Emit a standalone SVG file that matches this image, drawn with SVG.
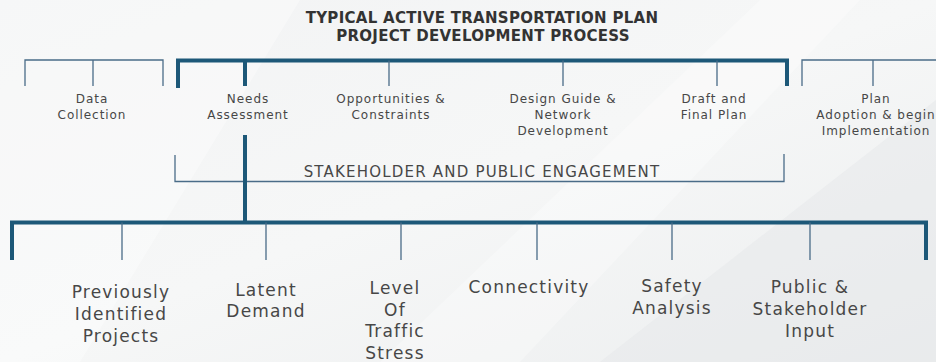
<svg xmlns="http://www.w3.org/2000/svg" width="936" height="362" viewBox="0 0 936 362">
<defs>
<linearGradient id="bg" x1="0" y1="0" x2="1" y2="1">
<stop offset="0" stop-color="#f2f3f4"/>
<stop offset="0.5" stop-color="#f6f7f7"/>
<stop offset="1" stop-color="#eceeef"/>
</linearGradient>
<style>
.thick{stroke:#1d5878;stroke-width:4;fill:none}
.thin{stroke:#4a6c88;stroke-width:1.3;fill:none}
.t{font-family:"DejaVu Sans","Liberation Sans",sans-serif;fill:#474747;text-anchor:middle}
.s{font-size:12px;letter-spacing:0.95px}
.l{font-size:17px;letter-spacing:1.2px}
.title{font-family:"DejaVu Sans","Liberation Sans",sans-serif;font-weight:bold;font-size:15px;fill:#333;text-anchor:middle;letter-spacing:0.3px}
.eng{font-size:15px;letter-spacing:1.2px}
</style>
</defs>
<rect width="936" height="362" fill="url(#bg)"/>
<polygon points="0,0 300,0 80,362 0,362" fill="#ffffff" opacity="0.35"/>
<polygon points="600,362 936,100 936,362" fill="#e6e8ea" opacity="0.5"/>
<polygon points="380,362 760,0 860,0 520,362" fill="#ffffff" opacity="0.3"/>

<g id="title">
<text class="title" x="482" y="23">TYPICAL ACTIVE TRANSPORTATION PLAN</text>
<text class="title" x="483" y="41">PROJECT DEVELOPMENT PROCESS</text>
</g>

<g id="connectors">
<path class="thin" d="M25,86 V60 H163 V86 M93,60 V86"/>
<path class="thick" d="M178,88 V60.5 H787 V86 M245,60.5 V86"/>
<path class="thin" d="M389,60.5 V86 M563,60.5 V86 M717,60.5 V86"/>
<path class="thin" d="M802,86 V60 H936 M873,60 V86"/>
<path class="thin" d="M175,155 V181.5 H784 V154"/>
<path class="thick" d="M245,135 V222.5 M12,260 V222.5 H926 V260"/>
<path class="thin" d="M122,222.5 V260 M266,222.5 V260 M401,222.5 V260 M537,222.5 V260 M672,222.5 V260 M810,222.5 V260"/>
</g>

<g id="data-collection"><text class="t s" x="92" y="102.5">Data</text><text class="t s" x="92" y="118.5">Collection</text></g>
<g id="needs-assessment"><text class="t s" x="248" y="102.5">Needs</text><text class="t s" x="248" y="118.5">Assessment</text></g>
<g id="opportunities"><text class="t s" x="391" y="102.5">Opportunities &amp;</text><text class="t s" x="391" y="118.5">Constraints</text></g>
<g id="design-guide"><text class="t s" x="563" y="102.5">Design Guide &amp;</text><text class="t s" x="563" y="118.5">Network</text><text class="t s" x="563" y="134.5">Development</text></g>
<g id="draft-plan"><text class="t s" x="714" y="102.5">Draft and</text><text class="t s" x="714" y="118.5">Final Plan</text></g>
<g id="plan-adoption"><text class="t s" x="876" y="102.5">Plan</text><text class="t s" x="876" y="118.5">Adoption &amp; begin</text><text class="t s" x="876" y="134.5">Implementation</text></g>
<g id="engagement"><text class="t eng" x="482" y="176.5">STAKEHOLDER AND PUBLIC ENGAGEMENT</text></g>

<g id="previously"><text class="t l" x="121" y="298">Previously</text><text class="t l" x="121" y="320">Identified</text><text class="t l" x="121" y="342">Projects</text></g>
<g id="latent"><text class="t l" x="266" y="296">Latent</text><text class="t l" x="266" y="317">Demand</text></g>
<g id="lts"><text class="t l" x="395" y="294">Level</text><text class="t l" x="395" y="315.5">Of</text><text class="t l" x="395" y="337">Traffic</text><text class="t l" x="395" y="358.5">Stress</text></g>
<g id="connectivity"><text class="t l" x="529" y="293">Connectivity</text></g>
<g id="safety"><text class="t l" x="672" y="292">Safety</text><text class="t l" x="672" y="314">Analysis</text></g>
<g id="public"><text class="t l" x="810" y="293">Public &amp;</text><text class="t l" x="810" y="315">Stakeholder</text><text class="t l" x="810" y="337">Input</text></g>
</svg>
